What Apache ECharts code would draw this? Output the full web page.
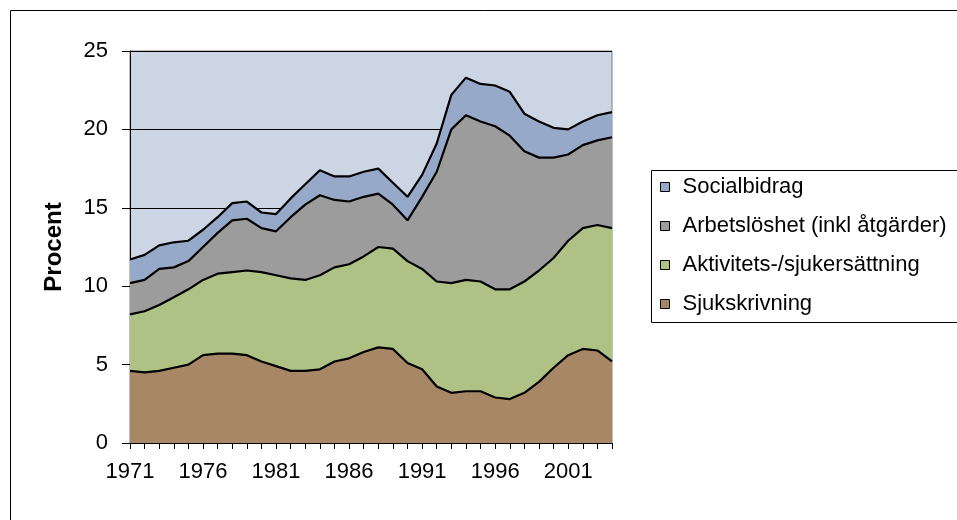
<!DOCTYPE html>
<html>
<head>
<meta charset="utf-8">
<script src="https://cdn.jsdelivr.net/npm/echarts@6/dist/echarts.min.js"></script>
<style>
  html, body { margin: 0; padding: 0; background: #fff; }
  #chart { width: 957px; height: 520px; }
</style>
</head>
<body>
<div id="chart"></div>
<script>
// år 1971-2004
var years = [];
for (var y = 1971; y <= 2004; y++) years.push(String(y));

var sjukskrivning = [4.6, 4.5, 4.6, 4.8, 5.0, 5.6, 5.7, 5.7, 5.6, 5.2, 4.9, 4.6, 4.6, 4.7, 5.2, 5.4, 5.8, 6.1, 6.0, 5.1,
                     4.7, 3.6, 3.2, 3.3, 3.3, 2.9, 2.8, 3.2, 3.9, 4.8, 5.6, 6.0, 5.9, 5.2];
var aktivitet = [3.6, 3.9, 4.2, 4.5, 4.8, 4.8, 5.1, 5.2, 5.4, 5.7, 5.8, 5.9, 5.8, 6.0, 6.0, 6.0, 6.1, 6.4, 6.4, 6.5,
                 6.4, 6.7, 7.0, 7.1, 7.0, 6.9, 7.0, 7.1, 7.1, 7.0, 7.3, 7.7, 8.0, 8.5];
var arbetsloshet = [2.0, 2.0, 2.3, 1.9, 1.8, 2.1, 2.6, 3.3, 3.3, 2.8, 2.8, 3.9, 4.8, 5.1, 4.3, 4.0, 3.8, 3.4, 2.8, 2.6,
                    4.6, 7.0, 9.8, 10.5, 10.2, 10.4, 9.8, 8.3, 7.2, 6.4, 5.5, 5.3, 5.4, 5.8];
var socialbidrag = [1.5, 1.6, 1.5, 1.6, 1.3, 1.1, 1.0, 1.1, 1.1, 1.0, 1.1, 1.2, 1.3, 1.6, 1.5, 1.6, 1.6, 1.6, 1.4, 1.5,
                    1.4, 1.8, 2.2, 2.4, 2.4, 2.6, 2.8, 2.4, 2.3, 1.9, 1.6, 1.5, 1.6, 1.6];

var namn = ['Sjukskrivning', 'Aktivitets-/sjukersättning', 'Arbetslöshet (inkl åtgärder)', 'Socialbidrag'];
var farger = ['#A88767', '#AFC285', '#9C9C9C', '#97A9C8'];
var font = 'Liberation Sans, Arial';

function omrade(name, data, color) {
    return {
        name: name,
        type: 'line',
        stack: 'tot',
        data: data,
        showSymbol: false,
        symbol: 'none',
        lineStyle: { color: '#000', width: 2.2 },
        itemStyle: { color: color, borderColor: '#000', borderWidth: 1 },
        areaStyle: { color: color, opacity: 1 },
        emphasis: { disabled: true }
    };
}

var myChart = echarts.init(document.getElementById('chart'));
var option = {
    backgroundColor: '#fff',
    animation: false,
    graphic: [
        { type: 'rect', left: 8, top: 8, shape: { width: 990, height: 600 },
          style: { fill: 'none', stroke: '#000', lineWidth: 1 }, z: -1 },
        { type: 'rect', left: 651, top: 170, shape: { width: 330, height: 152 },
          style: { fill: '#fff', stroke: '#000', lineWidth: 1 }, z: 0 }
    ],
    legend: {
        orient: 'vertical',
        left: 660,
        top: 176,
        padding: 0,
        itemGap: 17,
        itemWidth: 9,
        itemHeight: 9,
        icon: 'rect',
        z: 5,
        data: ['Socialbidrag', 'Arbetslöshet (inkl åtgärder)', 'Aktivitets-/sjukersättning', 'Sjukskrivning'],
        textStyle: { fontFamily: font, fontSize: 22, color: '#000', lineHeight: 22, padding: [0, 0, 0, 8] },
        itemStyle: { borderColor: '#000', borderWidth: 1 }
    },
    grid: {
        left: 130, top: 51, width: 482, height: 392,
        show: true,
        backgroundColor: '#CCD5E4',
        borderColor: '#808080',
        borderWidth: 1
    },
    xAxis: {
        type: 'category',
        data: years,
        boundaryGap: false,
        axisLine: { lineStyle: { color: '#000', width: 1 } },
        axisTick: { interval: 0, length: 6, lineStyle: { color: '#000' } },
        axisLabel: { interval: 4, color: '#000', fontFamily: font, fontSize: 22, margin: 18 },
        splitLine: { show: false }
    },
    yAxis: {
        type: 'value',
        min: 0, max: 25, interval: 5,
        name: 'Procent',
        nameLocation: 'middle',
        nameGap: 64,
        nameTextStyle: { fontFamily: font, fontWeight: 'bold', fontSize: 24, color: '#000' },
        axisLine: { show: true, lineStyle: { color: '#000', width: 1 } },
        axisTick: { show: true, length: 8, lineStyle: { color: '#000' } },
        axisLabel: { color: '#000', fontFamily: font, fontSize: 22, margin: 22 },
        splitLine: { show: true, lineStyle: { color: '#000', width: 1 } }
    },
    series: [
        omrade(namn[0], sjukskrivning, farger[0]),
        omrade(namn[1], aktivitet, farger[1]),
        omrade(namn[2], arbetsloshet, farger[2]),
        omrade(namn[3], socialbidrag, farger[3])
    ]
};
myChart.setOption(option);
</script>
</body>
</html>
